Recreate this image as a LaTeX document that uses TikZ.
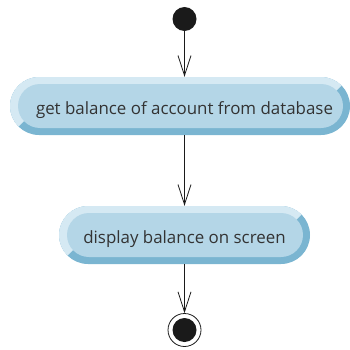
\documentclass[tikz,border=0pt]{standalone}
\usepackage{fontspec}
\setmainfont{Open Sans}
\usetikzlibrary{arrows.meta}
\definecolor{bandlight}{HTML}{D5E9F3}
\definecolor{bandmid}{HTML}{B4D6E7}
\definecolor{banddark}{HTML}{7AB5D1}
\definecolor{txt}{HTML}{333333}
\definecolor{ink}{HTML}{1A1A1A}
\newlength\twid
\settowidth\twid{\fontsize{10}{12}\selectfont get balance of account from database}
\pgfmathsetmacro\fsz{10*297/\twid}
% bevelled pill: xL yB xR yT
\newcommand\bevelpill[4]{%
  \pgfmathsetmacro\bpH{(#4-#2)/2}%
  \pgfmathsetmacro\bpC{(#4+#2)/2}%
  \pgfmathsetmacro\bpLc{#1+\bpH}%
  \pgfmathsetmacro\bpRc{#3-\bpH}%
  \fill[banddark, rounded corners=\bpH pt] (#1,#2) rectangle (#3,#4);
  \begin{scope}
    \clip (\bpLc-60,\bpC-60) -- (\bpLc,\bpC) -- (\bpRc,\bpC) -- (\bpRc+60,\bpC+60)
          -- (#1-90,\bpC+60) -- (#1-90,\bpC-60) -- cycle;
    \fill[bandlight, rounded corners=\bpH pt] (#1,#2) rectangle (#3,#4);
  \end{scope}
  \pgfmathsetmacro\bpI{\bpH-7}%
  \fill[bandmid, rounded corners=\bpI pt] (#1+8,#2+7) rectangle (#3-7,#4-7);
}
\begin{document}
\begin{tikzpicture}[x=1pt,y=1pt,
  arr/.style={draw=ink, line width=0.8pt, -{Straight Barb[length=20pt,width=13pt,line width=0.8pt]}},
  lbl/.style={text=txt, font=\fontsize{\fsz}{\fsz}\selectfont, inner sep=0pt},
  anchorbox/.style={inner sep=0pt, minimum width=1pt, minimum height=58pt},
  startnode/.style={circle, fill=ink, inner sep=0pt, minimum size=24pt},
  endnode/.style={circle, draw=ink, line width=0.8pt, inner sep=0pt, minimum size=33pt}]
\useasboundingbox (0,0) rectangle (350,349);
\bevelpill{10}{214}{350}{272}
\bevelpill{59}{85}{310}{143}
\node[startnode] (s) at (184.5,330) {};
\node[anchorbox] (b1) at (184.5,243) {};
\node[lbl, anchor=base] (t1) at (184.5,235) {get balance of account from database};
\node[anchorbox] (b2) at (184.5,114) {};
\node[lbl, anchor=base] (t2) at (184.5,106) {display balance on screen};
\node[endnode] (f) at (184.5,19) {};
\node[startnode] (fi) at (184.5,19) {};
\draw[arr] (s) -- (b1.north);
\draw[arr] (b1.south) -- (b2.north);
\draw[arr] (b2.south) -- (f.north);
\end{tikzpicture}
\end{document}
